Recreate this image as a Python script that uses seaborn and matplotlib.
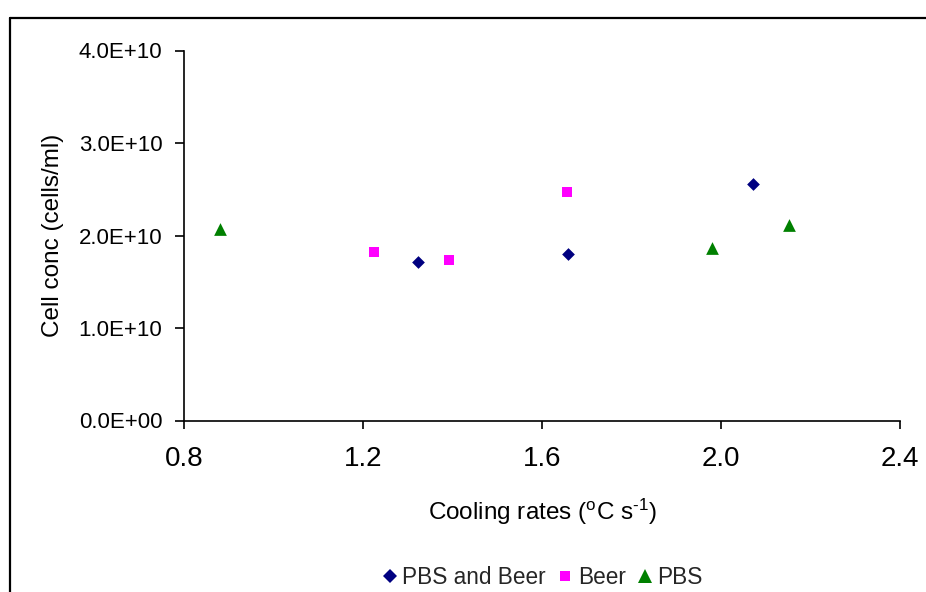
import matplotlib
matplotlib.use('Agg')
import matplotlib.pyplot as plt
import seaborn as sns
import pandas as pd
from matplotlib.ticker import FuncFormatter, FixedLocator
from matplotlib.lines import Line2D

# ---- data ----
series_names = ['PBS and Beer', 'Beer', 'PBS']
pbs_beer_x = [1.322, 1.659, 2.071]
pbs_beer_y = [1.714e10, 1.798e10, 2.555e10]
beer_x = [1.225, 1.393, 1.655]
beer_y = [1.819e10, 1.736e10, 2.472e10]
pbs_x = [0.880, 1.979, 2.151]
pbs_y = [2.066e10, 1.869e10, 2.115e10]
x_ticks = [0.8, 1.2, 1.6, 2.0, 2.4]
y_ticks = [0.0, 1.0e10, 2.0e10, 3.0e10, 4.0e10]
x_label = 'Cooling rates ($\\mathregular{^{o}}$C s$\\mathregular{^{\u2010 1}}$)'.replace('\u2010 ', '\u2010')
y_label = 'Cell conc (cells/ml)'

df = pd.concat([
    pd.DataFrame({'rate': pbs_beer_x, 'conc': pbs_beer_y, 'series': series_names[0]}),
    pd.DataFrame({'rate': beer_x, 'conc': beer_y, 'series': series_names[1]}),
    pd.DataFrame({'rate': pbs_x, 'conc': pbs_y, 'series': series_names[2]}),
], ignore_index=True)

# ---- style ----
sns.set_style('white')
plt.rcParams['font.family'] = ['Liberation Sans', 'DejaVu Sans']
plt.rcParams['mathtext.fontset'] = 'custom'
plt.rcParams['mathtext.rm'] = 'Liberation Sans'
plt.rcParams['mathtext.it'] = 'Liberation Sans:italic'
plt.rcParams['mathtext.bf'] = 'Liberation Sans:bold'

colors = {'PBS and Beer': '#000080', 'Beer': '#FF00FF', 'PBS': '#008000'}
markers = {'PBS and Beer': 'D', 'Beer': 's', 'PBS': '^'}
sizes = {'PBS and Beer': 42, 'Beer': 62, 'PBS': 84}

W, H = 926, 592
fig = plt.figure(figsize=(W / 100, H / 100), dpi=100)
ax_left, ax_right, ax_top, ax_bottom = 184, 900, 50.5, 420.5
ax = fig.add_axes([ax_left / W, 1 - ax_bottom / H,
                   (ax_right - ax_left) / W, (ax_bottom - ax_top) / H])

for name in series_names:
    sub = df[df['series'] == name]
    sns.scatterplot(data=sub, x='rate', y='conc', ax=ax, color=colors[name],
                    marker=markers[name], s=sizes[name], linewidth=0,
                    legend=False, zorder=3, clip_on=False)

ax.set_xlim(x_ticks[0], x_ticks[-1])
ax.set_ylim(y_ticks[0], y_ticks[-1])
ax.xaxis.set_major_locator(FixedLocator(x_ticks))
ax.yaxis.set_major_locator(FixedLocator(y_ticks))
ax.xaxis.set_major_formatter(FuncFormatter(lambda v, p: f'{v:.1f}'))
ax.yaxis.set_major_formatter(FuncFormatter(lambda v, p: f'{v:.1E}'))

for side in ['top', 'right']:
    ax.spines[side].set_visible(False)
for side in ['left', 'bottom']:
    ax.spines[side].set_color('black')
    ax.spines[side].set_linewidth(1.2)

ax.tick_params(axis='y', direction='out', length=6.5, width=1.2, color='black',
               labelsize=16, labelcolor='black', pad=9, left=True)
ax.tick_params(axis='x', direction='out', length=6, width=1.2, color='black',
               labelsize=20, labelcolor='black', pad=12, bottom=True)
ax.grid(False)

ax.set_xlabel(x_label, fontsize=17.5, color='black')
ax.set_ylabel(y_label, fontsize=17.5, color='black')
ax.xaxis.set_label_coords(0.5, (ax_bottom - 512) / (ax_bottom - ax_top))
ax.xaxis.label.set_va('center')
ax.yaxis.set_label_coords((53 - ax_left) / (ax_right - ax_left), 0.5)
ax.yaxis.label.set_va('center')

handles = [
    Line2D([], [], linestyle='none', marker='D', markersize=7.0,
           markerfacecolor=colors['PBS and Beer'], markeredgewidth=0),
    Line2D([], [], linestyle='none', marker='s', markersize=7.2,
           markerfacecolor=colors['Beer'], markeredgewidth=0),
    Line2D([], [], linestyle='none', marker='^', markersize=9.5,
           markerfacecolor=colors['PBS'], markeredgewidth=0),
]
fig.legend(handles, series_names, loc='center',
           bbox_to_anchor=(543 / W, 1 - 577 / H), ncol=3, frameon=False,
           fontsize=16.3, handlelength=0.6, handletextpad=0.25,
           columnspacing=0.55, borderaxespad=0, borderpad=0)

# outer chart frame (extends beyond right and bottom edges)
fig.add_artist(Line2D([9.5 / W, 9.5 / W], [1 - 18 / H, -0.01], transform=fig.transFigure,
                      color='black', linewidth=1.6))
fig.add_artist(Line2D([9.5 / W, 1.01], [1 - 18 / H, 1 - 18 / H], transform=fig.transFigure,
                      color='black', linewidth=1.6))

fig.savefig('out.png', dpi=100)
